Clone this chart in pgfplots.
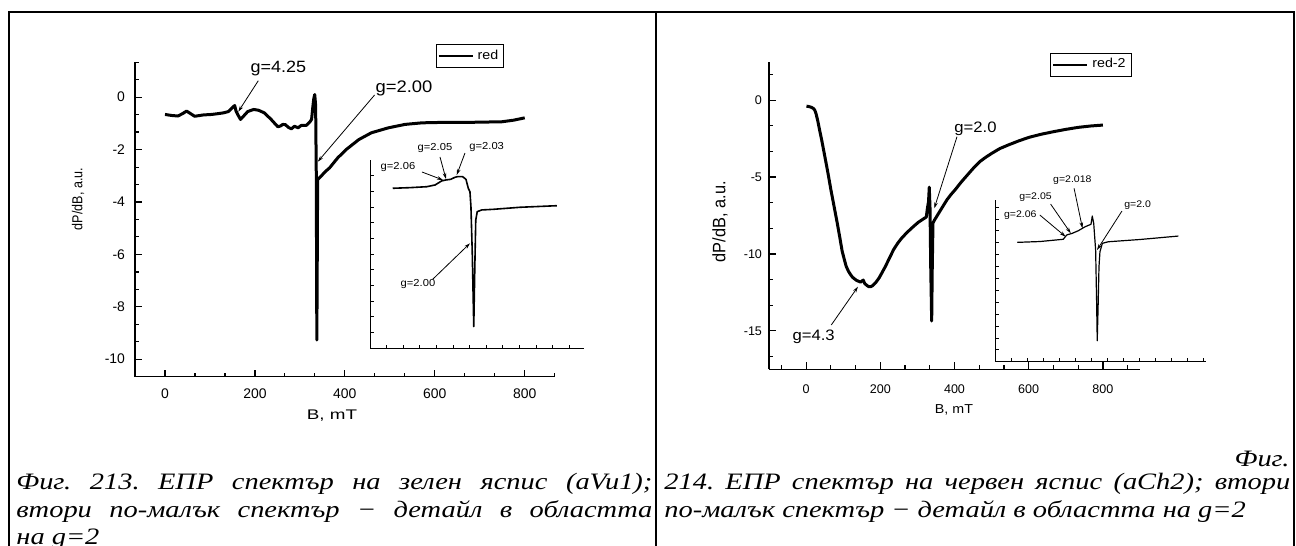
\documentclass[border=0pt]{standalone}
\usepackage{fontspec}
\setmainfont{Liberation Serif}
\newfontfamily\capfont{Liberation Serif}[FakeStretch=1.21]
\newfontfamily\arialW{Liberation Sans}[FakeStretch=1.35]
\newfontfamily\arialS{Liberation Sans}[FakeStretch=1.1]
\newfontfamily\arial{Liberation Sans}
\usepackage{pgfplots}
\pgfplotsset{compat=1.18}
\usetikzlibrary{arrows.meta}
\newcommand{\fs}[1]{\fontsize{#1}{#1}\selectfont}
\frenchspacing

\pgfplotsset{
  origin/.style={
    scale only axis, clip=false,
    axis x line*=bottom, axis y line*=left,
    axis line style={line width=0.7bp,-},
    tick style={black, line width=0.6bp},
    major tick length=3.5bp, minor tick length=2bp,
    tick align=inside,
    /pgf/number format/assume math mode=true,
  },
  inset/.style={
    origin,
    axis line style={line width=0.5bp,-},
    tick style={black, line width=0.4bp},
    major tick length=1.8bp,
    xticklabels={}, yticklabels={},
  },
  lgd/.style={
    legend style={draw=black, line width=0.4bp, inner sep=0.8bp, anchor=center, font=#1},
    legend cell align=left,
    legend image code/.code={\draw[line width=1bp] (0bp,0bp) -- (17bp,0bp);},
  },
}

\begin{document}
\begin{tikzpicture}
\useasboundingbox (0,0) rectangle (648bp,-273bp);

% ---- left panel: main spectrum
\begin{axis}[origin, at={(67.5bp,-188.35bp)}, anchor=south west,
  width=209.85bp, height=157.2bp,
  xmin=-66.67, xmax=866.67, ymin=-10.67, ymax=1.33,
  xtick={0,200,...,800}, ytick={-10,-8,...,0},
  minor xtick={-66.67,66.67,133.33,266.67,333.33,466.67,533.33,666.67,733.33,866.67},
  minor ytick={-10.67,-9.33,-8.67,-7.33,-6.67,-5.33,-4.67,-3.33,-2.67,-1.33,-0.67,0.67,1.33},
  xticklabel style={font=\arial\fs{7}, yshift=-2.3bp},
  yticklabel style={font=\arial\fs{7}, xshift=-1.5bp},
  lgd={\arialS\fs{6.5}}, legend style={at={(0.798,1.02)}}]
\addplot[black, line width=1.5bp, line join=round] coordinates {
  (0,-0.66) (15,-0.70) (29,-0.72) (40,-0.62) (48,-0.53) (56,-0.62) (66,-0.73)
  (85,-0.68) (104,-0.66) (118,-0.63) (130,-0.60) (141,-0.55) (151,-0.38)
  (155,-0.32) (158,-0.53) (163,-0.70) (168,-0.85) (175,-0.72) (184,-0.55)
  (197,-0.47) (208,-0.50) (221,-0.60) (236,-0.85) (245,-1.02) (251,-1.13)
  (257,-1.10) (262,-1.04) (268,-1.05) (274,-1.15) (281,-1.21) (288,-1.11)
  (296,-1.17) (303,-1.08) (314,-1.08) (322,-0.95) (326,-0.85) (329,-0.34)
  (331,-0.05) (333,0.10) (335,-0.30) (336.5,-3) (337.7,-9.27) (338.7,-6)
  (339.5,-3.15) (347,-3.02) (356,-2.85) (366,-2.70) (384,-2.32) (403,-2.0)
  (431,-1.62) (459,-1.36) (497,-1.17) (534,-1.04) (572,-0.98) (627,-0.96)
  (683,-0.96) (749,-0.94) (775,-0.88) (800,-0.79)
};
\addlegendentry{red}
\end{axis}

% ---- left panel: inset (g=2 region)
\begin{axis}[inset, at={(185bp,-174.15bp)}, anchor=south west,
  width=107bp, height=94.15bp,
  xmin=0, xmax=12.89, ymin=0, ymax=11.99,
  xtick={1,...,12}, ytick={1,...,11}]
\addplot[black, line width=0.8bp, line join=round] coordinates {
  (1.37,10.19) (2.41,10.23) (3.42,10.29) (3.92,10.40) (4.32,10.66) (4.58,10.72)
  (4.86,10.76) (5.12,10.89) (5.26,10.93) (5.58,10.93) (5.78,10.76) (5.92,10.19)
  (6.02,9.97) (6.08,9.02) (6.16,6.05) (6.25,1.38) (6.31,4.99) (6.37,8.17)
  (6.46,8.70) (6.73,8.81) (7.43,8.85) (9.04,8.98) (11.25,9.08)
};
\end{axis}

% ---- right panel: main spectrum
\begin{axis}[origin, at={(384.5bp,-184.65bp)}, anchor=south west,
  width=185.5bp, height=153.8bp,
  xmin=-100, xmax=900, ymin=-17.5, ymax=2.5,
  xtick={0,200,...,800}, ytick={-15,-10,-5,0},
  minor xtick={-66.67,66.67,133.33,266.67,333.33,466.67,533.33,666.67,733.33,866.67},
  minor ytick={-16.67,-13.33,-11.67,-8.33,-6.67,-3.33,-1.67,1.67},
  xticklabel style={font=\arial\fs{6.3}, yshift=-4bp},
  yticklabel style={font=\arial\fs{6.3}},
  lgd={\arialS\fs{6.5}}, legend style={at={(0.868,0.99)}}]
\addplot[black, line width=1.5bp, line join=round] coordinates {
  (1,-0.39) (8,-0.42) (14.5,-0.47) (20,-0.55) (23.4,-0.65) (27,-0.9) (31,-1.30)
  (36,-1.9) (42,-2.59) (50,-3.6) (59,-4.75) (67,-5.85) (75.4,-6.91) (84,-8.0)
  (91.9,-9.07) (97,-9.8) (103,-10.36) (108,-10.8) (114,-11.12) (120,-11.35)
  (125,-11.51) (131,-11.63) (136,-11.72) (142,-11.78) (147,-11.83) (151,-11.75)
  (154,-11.70) (158,-11.92) (164,-12.05) (169,-12.13) (175,-12.12) (180,-12.05)
  (188,-11.85) (197,-11.55) (205,-11.2) (214,-10.80) (225,-10.25) (236,-9.71)
  (247,-9.3) (258,-8.96) (269,-8.68) (280,-8.42) (291,-8.18) (302,-7.95)
  (313,-7.77) (324,-7.60) (327,-7.02) (330,-6.6) (332,-5.66) (334,-7.0)
  (336,-11) (338.5,-14.36) (340,-11) (342,-7.99) (346,-7.8) (352,-7.56)
  (365,-7.05) (379.6,-6.48) (390,-6.15) (401.6,-5.83) (418,-5.33) (435,-4.86)
  (451,-4.42) (468,-4.0) (485,-3.7) (501,-3.45) (522,-3.15) (545.5,-2.91)
  (573,-2.65) (600.5,-2.42) (633,-2.22) (667,-2.05) (700,-1.90) (733.4,-1.77)
  (767,-1.68) (800,-1.62)
};
\addlegendentry{red-2}
\end{axis}

% ---- right panel: inset (g=2 region)
\begin{axis}[inset, at={(497.5bp,-180.85bp)}, anchor=south west,
  width=105.5bp, height=80.85bp,
  xmin=0, xmax=13.19, ymin=0, ymax=13.59,
  xtick={1,...,13}, ytick={1,...,13}]
\addplot[black, line width=0.6bp, line join=round] coordinates {
  (1.39,10.03) (2.81,10.10) (4.27,10.29) (4.48,10.65) (4.83,10.79) (5.21,11.01)
  (5.63,11.34) (6.0,11.55) (6.08,12.24) (6.17,11.63) (6.29,9.39) (6.35,5.18)
  (6.39,1.76) (6.44,4.34) (6.5,7.98) (6.56,9.24) (6.71,9.95) (7.08,10.08)
  (9.06,10.27) (11.46,10.56)
};
\end{axis}

% ---- frame, labels, annotations, captions (pixel units)
\begin{scope}[x=0.5bp, y=-0.5bp]
  \draw[line width=1bp] (9,546) -- (9,12) -- (1294,12) -- (1294,546);
  \draw[line width=1bp] (656,12) -- (656,546);

  \tikzset{ar/.style={line width=0.4bp, -{Stealth[length=3bp,width=1.8bp]}}}

  % axis titles
  \node[rotate=90, inner sep=0] at (78,199) {\scalebox{1}[1.15]{\arial\fs{6.3}dP/dB, a.u.}};
  \node[inner sep=0] at (332,416) {\arialW\fs{7}B, mT};
  \node[rotate=90, inner sep=0] at (720,221.7) {\scalebox{1}[1.1]{\arial\fs{8.2}dP/dB, a.u.}};
  \node[inner sep=0] at (954,410) {\arialS\fs{6.5}B, mT};

  % left main annotations
  \node[inner sep=0] at (278.3,68.3) {\arialS\fs{8.2}g=4.25};
  \draw[ar] (258.3,80.7) -- (238.3,111.7);
  \node[inner sep=0] at (404,88.3) {\arialS\fs{8.4}g=2.00};
  \draw[ar] (374.6,95) -- (317.8,161.7);
  % left inset annotations
  \node[inner sep=0] at (398,167) {\arialS\fs{5.1}g=2.06};
  \draw[ar] (422,172) -- (443,180);
  \node[inner sep=0] at (435,148) {\arialS\fs{5.1}g=2.05};
  \draw[ar] (440,157) -- (446,179);
  \node[inner sep=0] at (486.7,147) {\arialS\fs{5.1}g=2.03};
  \draw[ar] (465,153) -- (456.7,175);
  \node[inner sep=0] at (418,284) {\arialS\fs{5.1}g=2.00};
  \draw[ar] (432.7,279.3) -- (470,243.3);

  % right main annotations
  \node[inner sep=0] at (975.5,128.3) {\arialS\fs{7.6}g=2.0};
  \draw[ar] (957,136.7) -- (934.3,208.3);
  \node[inner sep=0] at (813.6,336.7) {\arialS\fs{7.6}g=4.3};
  \draw[ar] (831.3,325) -- (858,286.7);
  % right inset annotations
  \node[inner sep=0] at (1072.4,180) {\arialS\fs{4.8}g=2.018};
  \draw[ar] (1074.1,188.3) -- (1082.5,228.3);
  \node[inner sep=0] at (1035.5,197.5) {\arialS\fs{4.8}g=2.05};
  \draw[ar] (1050.6,204) -- (1070.8,233.3);
  \node[inner sep=0] at (1020.3,215.5) {\arialS\fs{4.8}g=2.06};
  \draw[ar] (1039.8,215) -- (1065.7,236.7);
  \node[inner sep=0] at (1137.7,205.5) {\arialS\fs{4.8}g=2.0};
  \draw[ar] (1122,211) -- (1097,250);

  % captions
  \tikzset{capt/.style={inner sep=0, font=\capfont\itshape\fs{11.8}}}
  \node[capt, anchor=base west] at (16,490) {\makebox[318bp][s]{Фиг. 213. ЕПР спектър на зелен яспис (aVu1);}};
  \node[capt, anchor=base west] at (16,518) {\makebox[318bp][s]{втори по-малък спектър − детайл в областта}};
  \node[capt, anchor=base west] at (16,545) {на g=2};
  \node[capt, anchor=base east] at (1290,467) {Фиг.};
  \node[capt, anchor=base west] at (664,490) {\makebox[313bp][s]{214. ЕПР спектър на червен яспис (aCh2); втори}};
  \node[capt, anchor=base west] at (664,518) {по-малък спектър − детайл в областта на g=2};
\end{scope}
\end{tikzpicture}
\end{document}
